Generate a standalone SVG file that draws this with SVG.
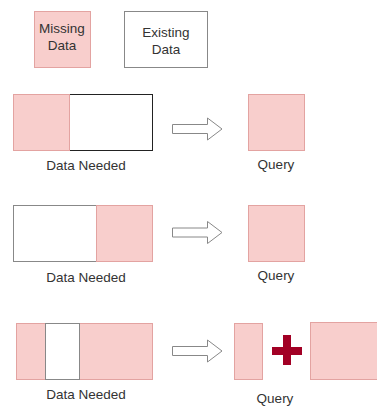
<svg xmlns="http://www.w3.org/2000/svg" width="377" height="407" viewBox="0 0 377 407">
<style>
text{font-family:"Liberation Sans",Arial,sans-serif;font-size:13.5px;fill:#333;text-anchor:middle}
.miss{fill:#f8cecc;stroke:#e3a3a1;stroke-width:1}
.exist{fill:#fff;stroke:#888;stroke-width:1}
.arrow{fill:#fff;stroke:#888;stroke-width:1}
.plus{fill:#a20025}
</style>
<rect width="377" height="407" fill="#fff"/>
<g id="legend-missing">
<rect class="miss" x="34.5" y="11.5" width="56" height="56"/>
<text x="62" y="33">Missing</text>
<text x="62" y="50">Data</text>
</g>
<g id="legend-existing">
<rect class="exist" x="124.5" y="11.5" width="83" height="56"/>
<text x="166" y="37">Existing</text>
<text x="166" y="54">Data</text>
</g>
<g id="row1-needed">
<rect class="exist" x="69.5" y="94.5" width="83" height="56" style="stroke:#222"/>
<rect class="miss" x="13.5" y="94.5" width="56" height="56"/>
<text x="86" y="170">Data Needed</text>
</g>
<g id="row1-query">
<rect class="miss" x="248.5" y="94.5" width="56" height="56"/>
<text x="276" y="169">Query</text>
</g>
<g id="row2-needed">
<rect class="exist" x="13.5" y="205.5" width="83" height="56"/>
<rect class="miss" x="96.5" y="205.5" width="56" height="56"/>
<text x="86" y="282">Data Needed</text>
</g>
<g id="row2-query">
<rect class="miss" x="248.5" y="205.5" width="56" height="56"/>
<text x="276" y="280">Query</text>
</g>
<g id="row3-needed">
<rect class="miss" x="16.5" y="323.5" width="136" height="56"/>
<rect class="exist" x="45.5" y="323.5" width="34" height="56"/>
<text x="86" y="399">Data Needed</text>
</g>
<g id="row3-query">
<rect class="miss" x="234.5" y="323.5" width="28" height="56"/>
<rect class="miss" x="310.5" y="322.5" width="70" height="57"/>
<rect class="plus" x="272" y="347" width="30" height="8"/>
<rect class="plus" x="283" y="335" width="8" height="30"/>
<text x="275" y="403">Query</text>
</g>
<g id="connectors">
<polygon class="arrow" points="172.5,124.5 207.5,124.5 207.5,118 222,129 207.5,140 207.5,133.5 172.5,133.5"/>
<polygon class="arrow" points="172.5,228 207.5,228 207.5,221.5 222,232.5 207.5,243.5 207.5,237 172.5,237"/>
<polygon class="arrow" points="172.5,346.5 207.5,346.5 207.5,340 222,351 207.5,362 207.5,355.5 172.5,355.5"/>
</g>
</svg>
